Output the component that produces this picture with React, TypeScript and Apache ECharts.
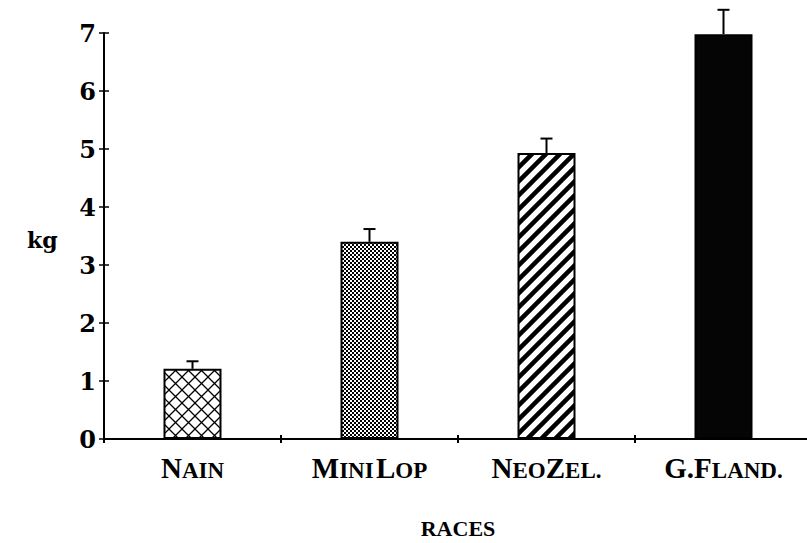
import React, { useEffect, useRef } from "react";
import * as echarts from "echarts";

const categories = ["Nain", "Mini Lop", "NeoZel.", "G.Fland."];
const means = [1.21, 3.4, 4.93, 6.98];
const errTops = [1.34, 3.62, 5.18, 7.4];
const yTicks = [0, 1, 2, 3, 4, 5, 6, 7];
const yLabel = "kg";
const xLabel = "RACES";

function makeTile(kind: string): { image: string; w: number; h: number } {
  const c = document.createElement("canvas");
  let w = 12, h = 12;
  if (kind === "cross") { w = 13; h = 13; }
  if (kind === "dots") { w = 4; h = 4; }
  if (kind === "stripes") { w = 14; h = 14; }
  c.width = w; c.height = h;
  const g = c.getContext("2d")!;
  g.fillStyle = "#fff";
  g.fillRect(0, 0, w, h);
  g.strokeStyle = "#000";
  g.fillStyle = "#000";
  if (kind === "cross") {
    g.lineWidth = 1.3;
    g.beginPath();
    g.moveTo(-1, -1); g.lineTo(w + 1, h + 1);
    g.moveTo(w + 1, -1); g.lineTo(-1, h + 1);
    g.stroke();
  } else if (kind === "dots") {
    g.fillRect(0, 0, 2, 2);
    g.fillRect(2, 2, 2, 2);
  } else if (kind === "stripes") {
    g.lineWidth = 4.5;
    g.beginPath();
    g.moveTo(-2, h + 2); g.lineTo(w + 2, -2);
    g.moveTo(-2 - w, h + 2); g.lineTo(2, -2);
    g.moveTo(w - 2, h + 2); g.lineTo(2 * w + 2, -2);
    g.stroke();
  }
  return { image: c.toDataURL(), w, h };
}

export default function App() {
  const ref = useRef<HTMLDivElement>(null);
  useEffect(() => {
    if (!ref.current) return;
    const chart = echarts.init(ref.current, undefined, { renderer: "svg" });
    const kinds = ["cross", "dots", "stripes", "solid"];
    const fills = kinds.map((k) => {
      if (k === "solid") return "#050505";
      const t = makeTile(k);
      return { image: t.image, repeat: "repeat", imageWidth: t.w, imageHeight: t.h } as any;
    });
    const fmtCat = (v: string) =>
      v
        .split("")
        .map((ch, i, arr) => {
          if (ch === " ") return "{sp| }";
          if (ch >= "a" && ch <= "z") return "{s|" + ch.toUpperCase() + "}";
          if (ch === ".") return arr[i - 1] >= "A" && arr[i - 1] <= "Z" ? "{b|.}" : "{s|.}";
          return "{b|" + ch + "}";
        })
        .join("");
    const catRich = {
      b: { fontFamily: "Liberation Serif", fontWeight: "bold", fontSize: 29, lineHeight: 30, verticalAlign: "bottom", color: "#000" },
      s: { fontFamily: "Liberation Serif", fontWeight: "bold", fontSize: 23, lineHeight: 30, verticalAlign: "bottom", color: "#000" },
      sp: { fontFamily: "Liberation Serif", fontSize: 9, lineHeight: 30, color: "#000" },
    };
    chart.setOption({
      animation: false,
      backgroundColor: "#fff",
      grid: { left: 104, top: 33, width: 708, height: 406, outerBoundsMode: "none", containLabel: false },
      xAxis: [
        {
          type: "category",
          data: categories,
          axisLine: { lineStyle: { color: "#000", width: 2 } },
          axisTick: { show: true, length: 4, lineStyle: { color: "#000", width: 2 } },
          axisLabel: { margin: 13, interval: 0, formatter: fmtCat, rich: catRich },
          name: xLabel,
          nameLocation: "middle",
          nameGap: 78,
          nameTextStyle: { fontFamily: "Liberation Serif", fontWeight: "bold", fontSize: 22, color: "#000" },
        },
        {
          type: "category",
          data: categories,
          position: "bottom",
          axisLine: { show: false },
          axisTick: { show: true, inside: true, length: 4, lineStyle: { color: "#000", width: 2 } },
          axisLabel: { show: false },
        },
      ],
      yAxis: [
        {
          type: "value",
          min: 0,
          max: 7,
          interval: 1,
          splitLine: { show: false },
          axisLine: { show: true, lineStyle: { color: "#000", width: 2 } },
          axisTick: { show: true, length: 5, lineStyle: { color: "#000", width: 1.5 } },
          axisLabel: {
            margin: 8,
            color: "#000",
            fontFamily: "DejaVu Serif",
            fontWeight: "bold",
            fontSize: 24,
            formatter: (v: number) => (yTicks.includes(v) ? String(v) : ""),
          },
        },
        {
          type: "value",
          min: 0,
          max: 7,
          interval: 1,
          position: "left",
          splitLine: { show: false },
          axisLine: { show: false },
          axisTick: { show: true, inside: true, length: 5, lineStyle: { color: "#000", width: 1.5 } },
          axisLabel: { show: false },
        },
      ],
      graphic: [
        {
          type: "text",
          left: 27,
          top: 229,
          style: { text: yLabel, fontFamily: "DejaVu Serif", fontWeight: "bold", fontSize: 22, fill: "#000" },
        },
      ],
      series: [
        {
          type: "bar",
          xAxisIndex: 0,
          yAxisIndex: 0,
          barWidth: 58,
          data: means.map((v, i) => ({
            value: v,
            itemStyle: { color: fills[i], borderColor: "#000", borderWidth: 2 },
          })),
        },
        {
          type: "custom",
          xAxisIndex: 0,
          yAxisIndex: 0,
          z: 10,
          clip: false,
          data: means.map((v, i) => [i, v, errTops[i]]),
          renderItem: (params: any, api: any) => {
            const x = api.value(0);
            const base = api.coord([x, api.value(1)]);
            const top = api.coord([x, api.value(2)]);
            return {
              type: "group",
              children: [
                {
                  type: "line",
                  shape: { x1: top[0], y1: base[1], x2: top[0], y2: top[1] },
                  style: { stroke: "#000", lineWidth: 2 },
                },
                {
                  type: "line",
                  shape: { x1: top[0] - 6, y1: top[1], x2: top[0] + 6, y2: top[1] },
                  style: { stroke: "#000", lineWidth: 2 },
                },
              ],
            };
          },
        },
      ],
    });
    return () => chart.dispose();
  }, []);
  return (
    <div
      ref={ref}
      style={{ position: "fixed", left: 0, top: 0, width: 807, height: 543, background: "#fff" }}
    />
  );
}
